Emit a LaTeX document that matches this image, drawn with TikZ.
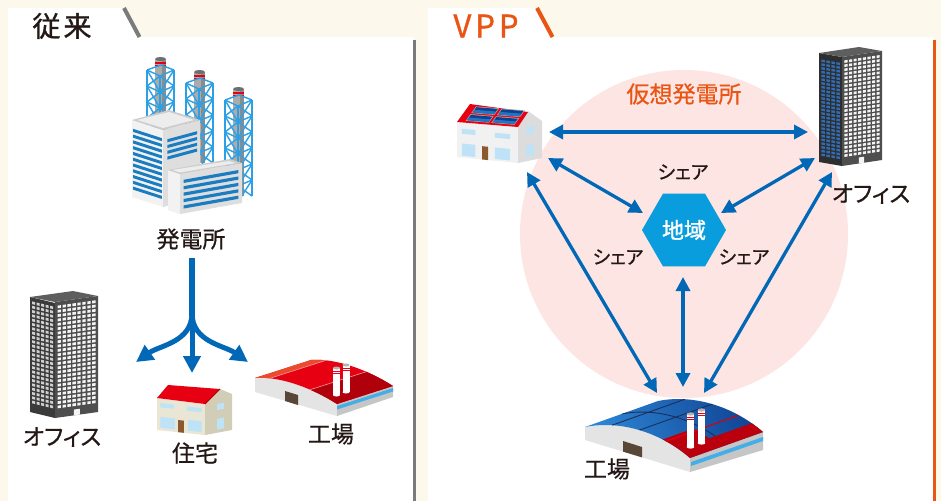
\documentclass[tikz,border=0pt]{standalone}
\usepackage{fontspec}
\usetikzlibrary{arrows.meta,shapes.geometric}
\newfontfamily\jp{Noto Sans CJK JP}[RawFeature=+palt, FakeBold=0.6]
\newfontfamily\jphead{Noto Sans CJK JP}[RawFeature=+palt, FakeBold=1.2]

\definecolor{cream}{HTML}{FDF8EC}
\definecolor{framegray}{HTML}{7B7B7B}
\definecolor{vppor}{HTML}{EA5514}
\definecolor{ink}{HTML}{231815}
\definecolor{flow}{HTML}{0068B7}
\definecolor{hexblue}{HTML}{0A9DDE}
\definecolor{zone}{HTML}{FCE5E2}
\definecolor{lattice}{HTML}{2DA0E4}
\definecolor{stripe}{HTML}{1A7CC1}
\definecolor{chimgray}{HTML}{ABABAB}
\definecolor{chimdark}{HTML}{8C8C8C}
\definecolor{chimtop}{HTML}{6E6E6E}
\definecolor{roofred}{HTML}{E60012}
\definecolor{roofhi}{HTML}{EB4A2C}
\definecolor{roofdeep}{HTML}{B0000C}
\definecolor{wallbeige}{HTML}{EAE6D5}
\definecolor{wallside}{HTML}{D2CDB6}
\definecolor{winblue}{HTML}{BEE2F6}
\definecolor{doorbrown}{HTML}{8A5A2C}
\definecolor{factorywall}{HTML}{E4E4E4}
\definecolor{factoryside}{HTML}{C6C6C6}
\definecolor{stripelight}{HTML}{45AEE6}
\definecolor{darkdoor}{HTML}{5A4636}
\definecolor{paneldark}{HTML}{0F3F8F}
\definecolor{panellight}{HTML}{2E8BDA}
\definecolor{seam}{HTML}{1B2F5A}
\definecolor{housewall}{HTML}{F1F1F1}
\definecolor{houseside}{HTML}{DCDCDC}
\definecolor{officeA}{HTML}{3A3A3A}
\definecolor{officeB}{HTML}{4E4E4E}
\definecolor{officetop}{HTML}{5E5E5E}
\definecolor{winpale}{HTML}{CFCFCF}
\definecolor{winwhite}{HTML}{F4F4F4}
\definecolor{winblue2}{HTML}{2F6DB6}

% lattice tower with its chimney: left x, top y, number of levels
\newcommand\powertower[3]{%
  \fill[chimgray] ({#1+8},{#2-11}) rectangle ({#1+19},{#2+16*#3});
  \fill[chimdark] ({#1+15},{#2-11}) rectangle ({#1+19},{#2+16*#3});
  \fill[chimtop] ({#1+13.5},{#2-11}) ellipse [x radius=5.5pt, y radius=2pt];
  \draw[roofred, line width=1.1pt] ({#1+8},{#2-7}) -- ({#1+19},{#2-7})
                                   ({#1+8},{#2-4.5}) -- ({#1+19},{#2-4.5});
  \begin{scope}[draw=lattice, line width=1.4pt, line join=round]
    \draw ({#1},{#2}) -- ({#1+14},{#2-5}) -- ({#1+27},{#2});
    \draw ({#1},{#2}) -- ({#1},{#2+16*#3})
          ({#1+13},{#2+6}) -- ({#1+13},{#2+6+16*#3})
          ({#1+27},{#2}) -- ({#1+27},{#2+16*#3});
    \foreach \k in {1,...,#3}{
      \pgfmathsetmacro\yy{#2+16*(\k-1)}
      \draw ({#1},{\yy}) -- ({#1+13},{\yy+6}) -- ({#1+27},{\yy});
      \draw ({#1},{\yy}) -- ({#1+13},{\yy+22})  ({#1+13},{\yy+6}) -- ({#1},{\yy+16});
      \draw ({#1+13},{\yy+6}) -- ({#1+27},{\yy+16})  ({#1+13},{\yy+22}) -- ({#1+27},{\yy});
    }
  \end{scope}}

% grid of windows on a face drawn in face units
\newcommand\windowgrid[7]{% colour, cols, rows, u0, du, v0, dv
  \foreach \c in {1,...,#2}{
    \foreach \r in {1,...,#3}{
      \pgfmathsetmacro\uu{#4+(\c-1)*#5}
      \pgfmathsetmacro\vv{#6+(\r-1)*#7}
      \fill[#1] (\uu,\vv) -- ++({0.68*#5},0) -- ++(0,{0.62*#7}) -- ++({-0.68*#5},0) -- cycle;
    }}}

\begin{document}
\begin{tikzpicture}[x=1pt,y=-1pt,
  lbl/.style={font=\jp\fontsize{23}{23}\selectfont, text=ink, inner sep=0pt},
  share/.style={font=\jp\fontsize{19}{19}\selectfont, text=ink, inner sep=0pt},
  link/.style={draw=flow, line width=3.3pt,
    {Triangle[length=14pt,width=14pt]}-{Triangle[length=14pt,width=14pt]}},
  feed/.style={draw=flow, line width=5pt, -{Triangle[length=17pt,width=17pt]}}]
\useasboundingbox (0,0) rectangle (941,501);

% ---------- background and panels ----------
\fill[cream] (0,0) rectangle (941,501);
\fill[white] (8,8) -- (123,8) -- (139,37) -- (413,37) -- (413,501) -- (8,501) -- cycle;
\draw[framegray, line width=4pt] (124,8) -- (139.5,37);
\draw[framegray, line width=3pt] (414.5,40) -- (414.5,501);
\fill[white] (428,8) -- (536,8) -- (552,37) -- (933,37) -- (933,501) -- (428,501) -- cycle;
\draw[vppor, line width=4pt] (537,8) -- (552.5,37);
\draw[vppor, line width=3pt] (934.5,40) -- (934.5,501);

\node[font=\jphead\fontsize{28}{28}\selectfont, text=ink, inner sep=0pt] (titleL) at (62,26) {従\hspace{3pt}来};
\node[font=\jphead\fontsize{31}{31}\selectfont, text=vppor, inner sep=0pt] (titleR) at (486,26) {V\hspace{4pt}P\hspace{4pt}P};

% ---------- power plant ----------
\powertower{147}{70}{4}
\powertower{186}{83}{5}
\powertower{225}{100}{6}
% tall block
\begin{scope}[shift={(132,197)}, x={(31pt,-10pt)}, y={(0pt,77pt)}]
  \fill[white!95!black] (0,0) -- (1,0) -- (1,1) -- (0,1) -- cycle;
  \foreach \k in {0,...,10}
    \fill[stripe] (0.04,{0.1+\k*0.075}) -- (0.96,{0.1+\k*0.075}) -- (0.96,{0.14+\k*0.075}) -- (0.04,{0.14+\k*0.075}) -- cycle;
\end{scope}
\begin{scope}[shift={(163,207)}, x={(37pt,10pt)}, y={(0pt,77pt)}]
  \fill[white!87!black] (0,0) -- (1,0) -- (1,1) -- (0,1) -- cycle;
  \foreach \k in {0,...,3}
    \fill[stripe] (0.12,{0.6+\k*0.075}) -- (0.92,{0.6+\k*0.075}) -- (0.92,{0.64+\k*0.075}) -- (0.12,{0.64+\k*0.075}) -- cycle;
\end{scope}
\fill[white!80!black] (132,120) -- (163,130) -- (200,120) -- (169,110) -- cycle;
\fill[white!93!black] (137,120) -- (163,128) -- (194,120) -- (169,112) -- cycle;
% low block
\begin{scope}[shift={(168,210)}, x={(12pt,-4pt)}, y={(0pt,40pt)}]
  \fill[white!95!black] (0,0) -- (1,0) -- (1,1) -- (0,1) -- cycle;
\end{scope}
\begin{scope}[shift={(180,214)}, x={(62pt,11pt)}, y={(0pt,40pt)}]
  \fill[white!87!black] (0,0) -- (1,0) -- (1,1) -- (0,1) -- cycle;
  \foreach \k in {0,...,4}
    \fill[stripe] (0.06,{0.12+\k*0.16}) -- (0.94,{0.12+\k*0.16}) -- (0.94,{0.2+\k*0.16}) -- (0.06,{0.2+\k*0.16}) -- cycle;
\end{scope}
\fill[white!80!black] (168,170) -- (180,174) -- (242,163) -- (230,159) -- cycle;
\fill[white!93!black] (172,170) -- (180,172.5) -- (236,163) -- (229,161) -- cycle;
\node[lbl] (plant) at (191,239) {発電所};

% ---------- power distribution ----------
\coordinate (trunkTop) at (192,258);
\coordinate (split) at (192,313);
\coordinate (toOffice) at (136,362);
\coordinate (toHome) at (192,373);
\coordinate (toFactory) at (248,362);
\draw[flow, line width=6pt] (trunkTop) -- (192,316);
\draw[feed] (split) to[out=-90, in=35] (toOffice);
\draw[feed] (split) -- (toHome);
\draw[feed] (split) to[out=-90, in=145] (toFactory);

% ---------- office (left) ----------
\begin{scope}[shift={(30,412)}, x={(25pt,-6pt)}, y={(0pt,115pt)}]
  \fill[officeA] (0,0) -- (1,0) -- (1,1) -- (0,1) -- cycle;
  \windowgrid{winpale}{5}{24}{0.08}{0.18}{0.08}{0.0375}
\end{scope}
\begin{scope}[shift={(55,418)}, x={(43pt,6pt)}, y={(0pt,116pt)}]
  \fill[officeB] (0,0) -- (1,0) -- (1,1) -- (0,1) -- cycle;
  \windowgrid{winwhite}{8}{24}{0.06}{0.115}{0.08}{0.0375}
  \fill[winwhite] (0.44,0) -- (0.58,0) -- (0.58,0.05) -- (0.44,0.05) -- cycle;
\end{scope}
\fill[officetop] (30,297) -- (55,302) -- (98,296) -- (73,291) -- cycle;
\node[lbl] (officeL) at (62,437) {オフィス};

% ---------- house (left) ----------
\fill[wallbeige] (157,398) -- (205,404) -- (205,435) -- (157,430) -- cycle;
\fill[wallside] (205,404) -- (220,389) -- (232,394) -- (232,430) -- (205,435) -- cycle;
\fill[roofred] (157,398) -- (168,385) -- (220,389) -- (205,404) -- cycle;
\draw[roofdeep, line width=1pt] (205,404) -- (220,389);
\begin{scope}[shift={(157,430)}, x={(48pt,-5pt)}, y={(0pt,32pt)}]
  \fill[winblue] (0.07,0.72) -- (0.35,0.72) -- (0.35,0.85) -- (0.07,0.85) -- cycle;
  \fill[winblue] (0.62,0.70) -- (0.93,0.70) -- (0.93,0.83) -- (0.62,0.83) -- cycle;
  \fill[winblue] (0.07,0.08) -- (0.37,0.08) -- (0.37,0.42) -- (0.07,0.42) -- cycle;
  \fill[winblue] (0.65,0.08) -- (0.93,0.08) -- (0.93,0.42) -- (0.65,0.42) -- cycle;
  \fill[doorbrown] (0.44,0) -- (0.56,0) -- (0.56,0.38) -- (0.44,0.38) -- cycle;
\end{scope}
\begin{scope}[shift={(205,435)}, x={(27pt,5pt)}, y={(0pt,31pt)}]
  \fill[winblue] (0.45,0.73) -- (0.7,0.73) -- (0.7,0.93) -- (0.45,0.93) -- cycle;
  \fill[winblue] (0.45,0.1) -- (0.7,0.1) -- (0.7,0.45) -- (0.45,0.45) -- cycle;
\end{scope}
\node[lbl] (home) at (195,453) {住宅};

% ---------- factory (left) ----------
\fill[factorywall] (255,378) .. controls (280,376) and (312,388) .. (337,404) -- (337,416) -- (255,392) -- cycle;
\fill[factoryside] (337,404) -- (393,386) -- (393,397) -- (337,416) -- cycle;
\fill[stripelight] (337,406) -- (393,388) -- (393,391.5) -- (337,409.5) -- cycle;
\fill[darkdoor] (285,391) -- (298,395) -- (298,405) -- (285,401) -- cycle;
\begin{scope}
  \clip (255,378) -- (311,360) .. controls (336,358) and (368,370) .. (393,386)
        -- (337,404) .. controls (312,388) and (280,376) .. (255,378) -- cycle;
  \fill[roofred] (230,330) rectangle (400,420);
  \fill[roofhi] (246,386) -- (362,348.8) -- (362,330) -- (230,330) -- (230,386) -- cycle;
  \fill[roofdeep] (280.2,399.3) -- (396.2,362.1) -- (400,362.1) -- (400,420) -- (280.2,420) -- cycle;
  \draw[white!60!roofred, line width=0.6pt] (246,386) -- (362,348.8) (280.2,399.3) -- (396.2,362.1);
\end{scope}
\foreach \cx/\cy in {336.5/395, 346/392}{
  \fill[white] ({\cx-3.5},{\cy-27}) rectangle ({\cx+3.5},{\cy});
  \fill[white] (\cx,\cy) ellipse [x radius=3.5pt, y radius=1.5pt];
  \fill[gray!60] (\cx,{\cy-27}) ellipse [x radius=3.5pt, y radius=1.5pt];
  \draw[roofred, line width=0.8pt] ({\cx-3.5},{\cy-24}) -- ({\cx+3.5},{\cy-24}) ({\cx-3.5},{\cy-22}) -- ({\cx+3.5},{\cy-22});
}
\node[lbl] (factoryL) at (331,434) {工場};

% ---------- VPP zone ----------
\fill[zone] (684,234) circle (164pt);
\node[lbl, text=vppor] (vpp) at (684,94) {仮想発電所};
\node[regular polygon, regular polygon sides=6, minimum size=84pt, inner sep=0pt,
      fill=hexblue, text=white, font=\jphead\fontsize{22}{22}\selectfont] (hex) at (684,230) {地域};
\node[share] (shareTop) at (683,172) {シェア};
\node[share] (shareLeft) at (618,257) {シェア};
\node[share] (shareRight) at (744,257) {シェア};

% ---------- house with solar roof ----------
\fill[housewall] (457,122) -- (518,127) -- (518,163) -- (457,157) -- cycle;
\fill[houseside] (518,127) -- (528,111) -- (542,121) -- (542,158) -- (518,163) -- cycle;
\fill[roofred] (457,122) -- (470,104) -- (528,112) -- (518,127) -- cycle;
\begin{scope}[shift={(457,122)}, x={(61pt,-5pt)}, y={(13pt,18pt)}]
  \foreach \ua/\ub in {0.12/0.5, 0.54/0.92}{
    \foreach \va/\vb in {0.1/0.47, 0.53/0.9}{
      \fill[gray!70] (\ua,\va) -- (\ub,\va) -- (\ub,\vb) -- (\ua,\vb) -- cycle;
      \fill[paneldark] ({\ua+0.015},{\va+0.04}) -- ({\ub-0.015},{\va+0.04}) -- ({\ub-0.015},{\vb-0.04}) -- ({\ua+0.015},{\vb-0.04}) -- cycle;
      \fill[panellight!70!paneldark] ({\ua+0.015},{\va+0.04}) -- ({\ub-0.015},{\va+0.04}) -- ({\ub-0.015},{(\va+\vb)/2}) -- ({\ua+0.015},{(\va+\vb)/2}) -- cycle;
    }}
\end{scope}
\begin{scope}[shift={(457,157)}, x={(61pt,-6pt)}, y={(0pt,35pt)}]
  \fill[winblue] (0.08,0.68) -- (0.3,0.68) -- (0.3,0.82) -- (0.08,0.82) -- cycle;
  \fill[winblue] (0.62,0.66) -- (0.87,0.66) -- (0.87,0.8) -- (0.62,0.8) -- cycle;
  \fill[winblue] (0.08,0.05) -- (0.3,0.05) -- (0.3,0.4) -- (0.08,0.4) -- cycle;
  \fill[winblue] (0.62,0.05) -- (0.87,0.05) -- (0.87,0.38) -- (0.62,0.38) -- cycle;
  \fill[doorbrown] (0.41,0) -- (0.51,0) -- (0.51,0.38) -- (0.41,0.38) -- cycle;
\end{scope}
\begin{scope}[shift={(518,163)}, x={(24pt,5pt)}, y={(0pt,36pt)}]
  \fill[winblue] (0.35,0.75) -- (0.65,0.75) -- (0.65,0.95) -- (0.35,0.95) -- cycle;
  \fill[winblue] (0.35,0.12) -- (0.65,0.12) -- (0.65,0.45) -- (0.35,0.45) -- cycle;
\end{scope}

% ---------- office (right) ----------
\begin{scope}[shift={(819,162)}, x={(23pt,-4pt)}, y={(0pt,109pt)}]
  \fill[officeA!80!black] (0,0) -- (1,0) -- (1,1) -- (0,1) -- cycle;
  \windowgrid{winblue2}{4}{26}{0.1}{0.22}{0.06}{0.0345}
\end{scope}
\begin{scope}[shift={(842,166)}, x={(40pt,6pt)}, y={(0pt,109pt)}]
  \fill[officeB] (0,0) -- (1,0) -- (1,1) -- (0,1) -- cycle;
  \windowgrid{winwhite}{8}{24}{0.06}{0.115}{0.08}{0.0375}
  \fill[winwhite] (0.42,0) -- (0.55,0) -- (0.55,0.055) -- (0.42,0.055) -- cycle;
\end{scope}
\fill[officetop] (819,53) -- (842,57) -- (882,51) -- (859,47) -- cycle;
\node[lbl] (officeR) at (871,194) {オフィス};

% ---------- factory with solar roof ----------
\fill[factorywall] (585,427) .. controls (620,420) and (660,432) .. (690,458) -- (690,472) -- (585,440) -- cycle;
\fill[factoryside] (690,458) -- (763,432) -- (763,450) -- (690,472) -- cycle;
\fill[stripelight] (691,462) -- (763,437) -- (763,441) -- (691,466) -- cycle;
\fill[darkdoor] (623,441) -- (642,447) -- (642,457.4) -- (623,451.6) -- cycle;
\begin{scope}
  \clip (585,427) -- (658,401) .. controls (693,394) and (733,406) .. (763,432)
        -- (690,458) .. controls (660,432) and (620,420) .. (585,427) -- cycle;
  \shade[left color=paneldark, right color=panellight, shading angle=-70] (575,385) rectangle (775,470);
  \draw[seam, line width=0.9pt] (611.95,425.24) -- (684.95,399.24)
                                (639.4,430.1) -- (712.4,404.1)
                                (665.9,441.2) -- (738.9,415.2);
  \draw[seam, line width=0.9pt] (621.5,414) .. controls (656.5,407) and (696.5,419) .. (726.5,445);
  \fill[roofdeep!80!roofred] (660,455.9) -- (780,413.2) -- (790,480) -- (660,480) -- cycle;
  \fill[roofdeep!80!roofred] (655.2,442.1) -- (693.2,428.6) -- (709.5,438.3) -- (671.5,451.85) -- cycle;
  \draw[roofred, line width=1pt] (665.9,441.2) -- (738.9,415.2);
\end{scope}
\foreach \cx/\cy in {690.5/447, 701.5/443}{
  \fill[white] ({\cx-3.8},{\cy-33}) rectangle ({\cx+3.8},{\cy});
  \fill[white] (\cx,\cy) ellipse [x radius=3.8pt, y radius=1.6pt];
  \fill[gray!60] (\cx,{\cy-33}) ellipse [x radius=3.8pt, y radius=1.6pt];
  \draw[roofred, line width=0.8pt] ({\cx-3.8},{\cy-30}) -- ({\cx+3.8},{\cy-30}) ({\cx-3.8},{\cy-27.5}) -- ({\cx+3.8},{\cy-27.5});
}
\node[lbl] (factoryR) at (607,469) {工場};

% ---------- sharing links ----------
\coordinate (houseE) at (549,132);   \coordinate (officeW) at (808,132);
\coordinate (houseSE) at (548,158);  \coordinate (hexNW) at (643,213);
\coordinate (officeSW) at (815,158); \coordinate (hexNE) at (721,213);
\coordinate (houseS) at (527,172);   \coordinate (factoryNW) at (657,393);
\coordinate (officeS) at (832,172);  \coordinate (factoryNE) at (704,393);
\coordinate (hexS) at (683,277);     \coordinate (factoryN) at (683,387);
\draw[link] (houseE) -- (officeW);
\draw[link] (houseSE) -- (hexNW);
\draw[link] (officeSW) -- (hexNE);
\draw[link] (houseS) -- (factoryNW);
\draw[link] (officeS) -- (factoryNE);
\draw[link] (hexS) -- (factoryN);
\end{tikzpicture}
\end{document}
